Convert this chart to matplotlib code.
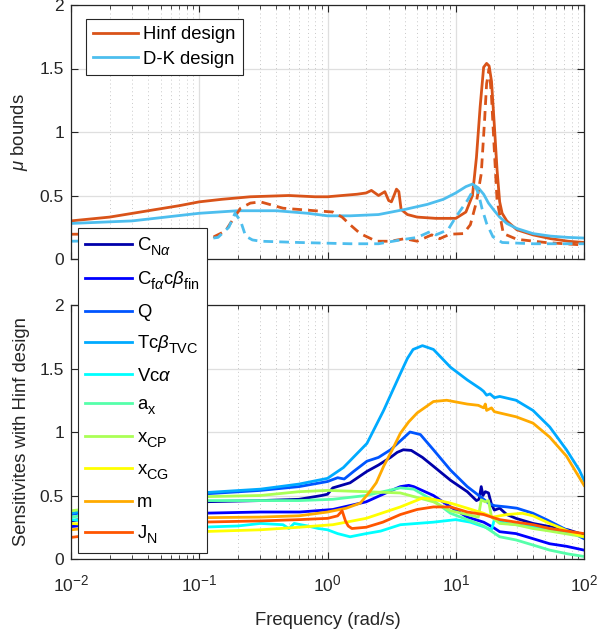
import numpy as np
import matplotlib
matplotlib.use("Agg")
import matplotlib.pyplot as plt
from matplotlib.ticker import FixedLocator, LogLocator, NullFormatter

plt.rcParams['font.family'] = ['Liberation Sans', 'DejaVu Sans']
plt.rcParams['mathtext.fontset'] = 'custom'
plt.rcParams['mathtext.rm'] = 'Liberation Sans'
plt.rcParams['mathtext.it'] = 'Liberation Sans:italic'
plt.rcParams['mathtext.bf'] = 'Liberation Sans:bold'
try:
    import matplotlib._mathtext as _mt
    _mt.FontConstantsBase.sub1 = 0.55
    _mt.FontConstantsBase.sub2 = 0.7
    _mt.FontConstantsBase.sup1 = 0.75
    _mt.SHRINK_FACTOR = 0.78
except Exception:
    pass

# ---------------- top panel data (mu bounds) ----------------
hinf_ub_f = [0.01, 0.02, 0.04, 0.07, 0.1, 0.15, 0.25, 0.5, 0.8, 1.0, 1.3, 1.7, 2.0, 2.2, 2.5, 2.8, 3.0,
             3.15, 3.3, 3.45, 3.6, 3.75, 4.2, 5, 7, 10, 12, 13.5, 14.5, 15.5, 16.5, 17.4, 18.2, 19, 20,
             21, 22, 23, 25, 30, 40, 55, 75, 100]
hinf_ub_v = [0.30, 0.33, 0.38, 0.42, 0.45, 0.47, 0.49, 0.50, 0.49, 0.49, 0.50, 0.51, 0.52, 0.54, 0.50,
             0.53, 0.46, 0.45, 0.50, 0.55, 0.53, 0.39, 0.35, 0.33, 0.32, 0.32, 0.37, 0.50, 0.80, 1.20,
             1.51, 1.54, 1.52, 1.40, 1.05, 0.70, 0.45, 0.36, 0.30, 0.23, 0.19, 0.16, 0.14, 0.13]

dk_ub_f = [0.01, 0.03, 0.1, 0.2, 0.4, 0.7, 1.0, 1.5, 2.5, 4, 6, 8, 10, 12, 13.5, 15, 16.5, 18, 20, 22,
           25, 30, 40, 55, 75, 100]
dk_ub_v = [0.28, 0.30, 0.36, 0.38, 0.38, 0.36, 0.34, 0.34, 0.35, 0.39, 0.43, 0.47, 0.52, 0.57, 0.59,
           0.56, 0.51, 0.44, 0.38, 0.33, 0.28, 0.24, 0.20, 0.18, 0.17, 0.165]

hinf_lb_f = [0.01, 0.05, 0.1, 0.13, 0.16, 0.18, 0.21, 0.25, 0.3, 0.45, 0.8, 1.1, 1.3, 1.5, 1.8, 2.4,
             3.1, 4, 5, 6.5, 7.5, 9, 11.5, 13, 14.5, 15.8, 16.8, 17.4, 18.2, 19, 20, 21, 23.5, 30, 50, 100]
hinf_lb_v = [0.195, 0.20, 0.20, 0.175, 0.22, 0.30, 0.40, 0.44, 0.45, 0.40, 0.38, 0.37, 0.33, 0.27,
             0.20, 0.14, 0.14, 0.16, 0.14, 0.19, 0.16, 0.195, 0.20, 0.27, 0.45, 0.67, 1.10, 1.38, 1.50,
             1.28, 0.85, 0.46, 0.20, 0.155, 0.13, 0.11]

dk_lb_f = [0.01, 0.05, 0.1, 0.14, 0.17, 0.19, 0.21, 0.23, 0.26, 0.3, 0.6, 1.5, 2.5, 3.7, 5, 6.3, 7,
           8.7, 10, 12.3, 14.2, 15, 16, 17.4, 19.5, 23, 40, 100]
dk_lb_v = [0.14, 0.15, 0.15, 0.17, 0.25, 0.36, 0.30, 0.18, 0.15, 0.14, 0.13, 0.12, 0.12, 0.15, 0.17,
           0.215, 0.19, 0.23, 0.33, 0.46, 0.57, 0.52, 0.40, 0.28, 0.175, 0.13, 0.12, 0.12]

# ---------------- bottom panel data (sensitivities) ----------------
cna_f = [0.01, 0.1, 0.3, 0.6, 0.9, 1.0, 1.1, 1.5, 2.03, 2.5, 3.1, 3.5, 3.9, 4.5, 5.5, 6.7, 9.1, 12.3,
         14.5, 15.2, 15.8, 16.3, 17, 18, 19, 20, 22, 25, 29.5, 40, 54, 75, 100]
cna_v = [0.30, 0.45, 0.46, 0.47, 0.50, 0.51, 0.56, 0.60, 0.69, 0.74, 0.80, 0.84, 0.86, 0.855, 0.80,
         0.73, 0.62, 0.53, 0.46, 0.47, 0.57, 0.50, 0.53, 0.52, 0.43, 0.385, 0.40, 0.35, 0.32, 0.28,
         0.255, 0.23, 0.19]

cfa_f = [0.01, 0.1, 0.3, 0.61, 1.1, 2, 3, 3.7, 4.3, 4.7, 6.7, 9.1, 12.3, 16.5, 19.5, 22, 29.5, 40,
         54, 73, 100]
cfa_v = [0.255, 0.36, 0.37, 0.37, 0.39, 0.45, 0.53, 0.57, 0.58, 0.57, 0.50, 0.41, 0.33, 0.29, 0.25,
         0.215, 0.20, 0.16, 0.12, 0.10, 0.07]

q_f = [0.01, 0.03, 0.1, 0.3, 0.6, 1.0, 1.2, 1.35, 1.6, 2.03, 2.5, 3.1, 3.7, 4.4, 5.3, 6.7, 9.1, 12.3,
       15.6, 18, 20, 25, 30, 40, 51, 73, 100]
q_v = [0.35, 0.44, 0.51, 0.54, 0.57, 0.61, 0.64, 0.63, 0.69, 0.77, 0.80, 0.86, 0.93, 1.00, 0.98, 0.86,
       0.70, 0.57, 0.49, 0.44, 0.42, 0.41, 0.40, 0.36, 0.31, 0.23, 0.16]

tc_f = [0.01, 0.03, 0.1, 0.3, 0.6, 1.0, 1.33, 2.03, 2.74, 3.2, 3.7, 4.2, 4.65, 5.5, 6.7, 9.1, 12.3,
        15.6, 16.5, 17.4, 18.5, 20, 22, 29.5, 40, 54, 73, 92, 100]
tc_v = [0.36, 0.45, 0.52, 0.55, 0.59, 0.635, 0.72, 0.91, 1.17, 1.32, 1.46, 1.58, 1.65, 1.68, 1.65,
        1.51, 1.41, 1.34, 1.32, 1.29, 1.30, 1.27, 1.28, 1.25, 1.17, 1.04, 0.86, 0.70, 0.62]

vc_f = [0.01, 0.05, 0.1, 0.2, 0.3, 0.45, 0.5, 0.55, 0.7, 0.85, 1.0, 1.2, 1.5, 2.0, 2.6, 3.7, 6.7, 10,
        13, 17, 19, 20, 25, 35, 54, 100]
vc_v = [0.31, 0.27, 0.25, 0.26, 0.28, 0.27, 0.24, 0.28, 0.26, 0.24, 0.23, 0.20, 0.175, 0.20, 0.22,
        0.27, 0.29, 0.31, 0.29, 0.25, 0.23, 0.31, 0.28, 0.26, 0.24, 0.175]

ax_f = [0.01, 0.1, 0.3, 0.6, 1.1, 2, 3, 3.7, 4.7, 6.7, 9.1, 12.3, 16.5, 22, 29.5, 40, 54, 75, 100]
ax_v = [0.33, 0.46, 0.46, 0.46, 0.47, 0.50, 0.54, 0.56, 0.55, 0.46, 0.36, 0.31, 0.26, 0.175, 0.15,
        0.11, 0.07, 0.04, 0.02]

xcp_f = [0.01, 0.1, 0.3, 0.6, 1.0, 2, 3.7, 6.7, 9.1, 12.3, 15, 15.8, 17, 18, 19, 22, 29.5, 40, 54, 100]
xcp_v = [0.38, 0.49, 0.50, 0.53, 0.54, 0.53, 0.52, 0.45, 0.38, 0.35, 0.33, 0.465, 0.45, 0.46, 0.33,
         0.28, 0.27, 0.24, 0.22, 0.175]

xcg_f = [0.01, 0.1, 0.3, 0.6, 1.1, 2, 3.7, 5.5, 6.7, 9.1, 12.3, 16.5, 19.5, 25, 33, 40, 54, 75, 100]
xcg_v = [0.28, 0.215, 0.23, 0.25, 0.27, 0.32, 0.41, 0.48, 0.47, 0.44, 0.40, 0.36, 0.33, 0.35, 0.36,
         0.34, 0.28, 0.22, 0.175]

m_f = [0.01, 0.1, 0.3, 0.6, 1.0, 1.4, 1.8, 2.1, 2.4, 2.74, 3.2, 3.7, 4.3, 5, 6.7, 8.5, 12.3, 15, 16.5,
       17, 17.4, 19, 20, 22, 29.5, 40, 54, 73, 100]
m_v = [0.23, 0.325, 0.33, 0.34, 0.37, 0.40, 0.44, 0.52, 0.60, 0.73, 0.86, 0.99, 1.08, 1.15, 1.24, 1.25,
       1.22, 1.21, 1.19, 1.22, 1.17, 1.19, 1.16, 1.15, 1.12, 1.07, 0.96, 0.81, 0.58]

jn_f = [0.01, 0.1, 0.3, 0.6, 1.0, 1.2, 1.3, 1.38, 1.45, 1.55, 2, 2.7, 3.7, 5, 6.7, 9.1, 12.3, 16.5, 22,
        40, 54, 100]
jn_v = [0.17, 0.29, 0.30, 0.31, 0.32, 0.34, 0.38, 0.30, 0.26, 0.24, 0.25, 0.29, 0.35, 0.39, 0.41, 0.41,
        0.37, 0.35, 0.31, 0.27, 0.24, 0.20]

sens_labels = [r'C$_{\mathrm{N}\alpha}$', r'C$_{\mathrm{f}\alpha}$c$\beta_{\mathrm{fin}}$', 'Q',
               r'Tc$\beta_{\mathrm{TVC}}$', r'Vc$\alpha$', r'a$_{\mathrm{x}}$', r'x$_{\mathrm{CP}}$',
               r'x$_{\mathrm{CG}}$', 'm', r'J$_{\mathrm{N}}$']
sens_f = [cna_f, cfa_f, q_f, tc_f, vc_f, ax_f, xcp_f, xcg_f, m_f, jn_f]
sens_v = [cna_v, cfa_v, q_v, tc_v, vc_v, ax_v, xcp_v, xcg_v, m_v, jn_v]
sens_colors = [(0, 0, 0.6667), (0, 0, 1), (0, 0.3333, 1), (0, 0.6667, 1), (0, 1, 1),
               (0.3333, 1, 0.6667), (0.6667, 1, 0.3333), (1, 1, 0), (1, 0.6667, 0), (1, 0.3333, 0)]

xticks = [0.01, 0.1, 1, 10, 100]
xticklabels = [r'10$^{-2}$', r'10$^{-1}$', r'10$^{0}$', r'10$^{1}$', r'10$^{2}$']
yticks = [0, 0.5, 1, 1.5, 2]
yticklabels = ['0', '0.5', '1', '1.5', '2']

C_HINF = '#D95319'
C_DK = '#4DBEEE'
TXT = '#262626'
FS_TICK = 12.5
FS_LAB = 13.3
FS_LEG = 13.3

W, H = 597, 633
fig = plt.figure(figsize=(W / 100, H / 100), dpi=100)

def px_axes(x0, y0, x1, y1):
    return fig.add_axes([x0 / W, 1 - y1 / H, (x1 - x0) / W, (y1 - y0) / H])

ax1 = px_axes(71, 5, 584, 259)
ax2 = px_axes(71, 305, 584, 559)

def style(ax):
    ax.set_xscale('log')
    ax.set_xlim(0.01, 100)
    ax.set_ylim(0, 2)
    ax.xaxis.set_major_locator(FixedLocator(xticks))
    ax.xaxis.set_minor_locator(LogLocator(base=10, subs=np.arange(2, 10)))
    ax.xaxis.set_minor_formatter(NullFormatter())
    ax.set_yticks(yticks)
    ax.set_yticklabels(yticklabels)
    ax.grid(True, which='major', color='#DFDFDF', lw=0.9, zorder=0)
    ax.grid(True, which='minor', axis='x', color='#C8C8C8', lw=0.7, ls=(0, (1, 3)), zorder=0)
    ax.tick_params(which='both', direction='in', top=True, right=True, colors=TXT,
                   labelsize=FS_TICK, labelcolor=TXT)
    ax.tick_params(which='major', length=5, width=0.8)
    ax.tick_params(which='minor', length=3, width=0.6)
    ax.tick_params(axis='y', pad=5)
    for s in ax.spines.values():
        s.set_color(TXT)
        s.set_linewidth(0.9)
    ax.set_axisbelow(True)

style(ax1)
style(ax2)

lw = 2.0
l1, = ax1.plot(hinf_ub_f, hinf_ub_v, color=C_HINF, lw=lw, label='Hinf design')
l2, = ax1.plot(dk_ub_f, dk_ub_v, color=C_DK, lw=lw, label='D-K design')
ax1.plot(hinf_lb_f, hinf_lb_v, color=C_HINF, lw=lw, ls=(0, (3.5, 2.2)))
ax1.plot(dk_lb_f, dk_lb_v, color=C_DK, lw=lw, ls=(0, (3.5, 2.2)))
ax1.set_xticklabels([])
ax1.set_ylabel(r'$\mu$ bounds', fontsize=FS_LAB, color=TXT, labelpad=7)

handles = []
for f, v, c, lab in zip(sens_f, sens_v, sens_colors, sens_labels):
    h, = ax2.plot(f, v, color=c, lw=lw, label=lab)
    handles.append(h)
ax2.set_xticklabels(xticklabels)
ax2.tick_params(axis='x', which='major', pad=11)
ax2.set_ylabel('Sensitivites with Hinf design', fontsize=FS_LAB, color=TXT, labelpad=7)
ax2.set_xlabel('Frequency (rad/s)', fontsize=FS_LAB, color=TXT, labelpad=12)

leg1 = fig.legend(handles=[l1, l2], loc='upper left', bbox_to_anchor=(86 / W, 1 - 19 / H),
                  fontsize=FS_LEG, frameon=True, fancybox=False, edgecolor=TXT, framealpha=1,
                  handlelength=2.4, handletextpad=0.3, borderpad=0.4, labelspacing=0.4,
                  borderaxespad=0)
leg1.get_frame().set_linewidth(0.8)

leg2 = fig.legend(handles=handles, loc='upper left', bbox_to_anchor=(78 / W, 1 - 228 / H),
                  fontsize=FS_LEG, frameon=True, fancybox=False, edgecolor=TXT, framealpha=1,
                  handlelength=2.5, handletextpad=0.3, borderpad=0.4, labelspacing=0.65,
                  borderaxespad=0)
leg2.get_frame().set_linewidth(0.8)

fig.savefig('out.png', dpi=100)
